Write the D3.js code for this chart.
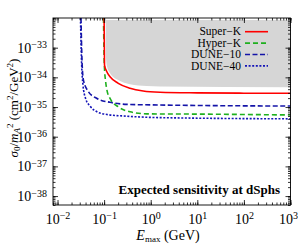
<!DOCTYPE html>
<html>
<head>
<meta charset="utf-8">
<script src="https://cdn.jsdelivr.net/npm/d3@7"></script>
<style>
  html, body { margin: 0; padding: 0; background: #fff; }
  svg { display: block; font-family: "Liberation Serif", "DejaVu Serif", serif; }
</style>
</head>
<body>
<svg id="chart" width="298" height="248"></svg>
<script>
// axis domains and tick labels
const xDomain = [8e-3, 1e3];
const yDomain = [5e-39, 1e-32];
const xMajor = [1e-2, 1e-1, 1e0, 1e1, 1e2, 1e3];
const xExp = ["−2", "−1", "0", "1", "2", "3"];
const yMajor = [1e-38, 1e-37, 1e-36, 1e-35, 1e-34, 1e-33];
const yExp = ["−38", "−37", "−36", "−35", "−34", "−33"];

// shaded region (upper bound + lower boundary)
const grayTop = 8.5e-33;
const grayE = [0.108, 0.11, 0.115, 0.134, 0.201, 0.359, 0.82, 1.58, 1000];
const graySig = [grayTop, 4.5e-34, 2.4e-34, 1.38e-34, 8.1e-35, 5.9e-35, 5.1e-35, 4.9e-35, 4.6e-35];

// sensitivity curves
const superkE = [0.1, 0.102, 0.1125, 0.134, 0.201, 0.359, 0.69, 1.58, 10, 100, 1000];
const superkSig = [1e-32, 2.6e-34, 1.63e-34, 1.05e-34, 6.3e-35, 4.3e-35, 3.47e-35, 3.16e-35, 3.0e-35, 2.93e-35, 2.9e-35];

const hyperkE = [0.097, 0.101, 0.108, 0.115, 0.134, 0.201, 0.359, 0.82, 15.9, 1000];
const hyperkSig = [1e-32, 2.6e-34, 7.1e-35, 3.7e-35, 1.95e-35, 1.02e-35, 6.9e-36, 5.9e-36, 5.75e-36, 5.4e-36];

const dune10E = [0.0319, 0.0335, 0.036, 0.045, 0.0703, 0.134, 0.31, 1.58, 1000];
const dune10Sig = [1e-32, 3.85e-34, 8.1e-35, 3.47e-35, 1.94e-35, 1.44e-35, 1.23e-35, 1.17e-35, 1.08e-35];

const dune40E = [0.0311, 0.0327, 0.0352, 0.0398, 0.0498, 0.0703, 0.115, 0.31, 1.58, 1000];
const dune40Sig = [1e-32, 3.85e-34, 5.5e-35, 2.0e-35, 1.08e-35, 6.9e-36, 5.6e-36, 4.9e-36, 4.4e-36, 4.0e-36];

const legendNames = ["Super−K", "Hyper−K", "DUNE−10", "DUNE−40"];

const series = [
  { name: legendNames[0], E: superkE, s: superkSig, color: "#ff0000", dash: null },
  { name: legendNames[1], E: hyperkE, s: hyperkSig, color: "#1fb01f", dash: "5,3" },
  { name: legendNames[2], E: dune10E, s: dune10Sig, color: "#1414a8", dash: "5,2.5" },
  { name: legendNames[3], E: dune40E, s: dune40Sig, color: "#1414b8", dash: "2,1.6" }
];

const svg = d3.select("#chart");
const margin = { top: 18, right: 7.5, bottom: 43, left: 53 };
const width = 298 - margin.left - margin.right;
const height = 248 - margin.top - margin.bottom;

const x = d3.scaleLog().domain(xDomain).range([0, width]);
const y = d3.scaleLog().domain(yDomain).range([height, 0]);

const chart = svg.append("g").attr("transform", `translate(${margin.left},${margin.top})`);

chart.append("clipPath").attr("id", "clip")
  .append("rect").attr("width", width).attr("height", height);

const plot = chart.append("g").attr("clip-path", "url(#clip)");

// grey region
const grayData = grayE.map((e, i) => ({ e, s: graySig[i] }));
plot.append("path")
  .datum(grayData)
  .attr("fill", "#d6d6d6")
  .attr("d", d3.area()
    .x(d => x(d.e))
    .y0(y(grayTop))
    .y1(d => y(d.s))
    .curve(d3.curveMonotoneX));

// curves
const line = d3.line()
  .x(d => x(d.e))
  .y(d => y(d.s))
  .curve(d3.curveMonotoneX);

series.slice().reverse().forEach(sr => {
  plot.append("path")
    .datum(sr.E.map((e, i) => ({ e, s: sr.s[i] })))
    .attr("fill", "none")
    .attr("stroke", sr.color)
    .attr("stroke-width", 1.6)
    .attr("stroke-dasharray", sr.dash)
    .attr("d", line);
});

// axes: minor ticks on all sides
const allX = x.ticks();
const allY = y.ticks();
const style = g => {
  g.select(".domain").remove();
  g.selectAll("line").attr("stroke", "#000").attr("stroke-width", 0.8);
};
chart.append("g").attr("transform", `translate(0,${height})`)
  .call(d3.axisBottom(x).tickValues(allX).tickSize(-2.5).tickFormat("")).call(style);
chart.append("g")
  .call(d3.axisTop(x).tickValues(allX).tickSize(-2.5).tickFormat("")).call(style);
chart.append("g")
  .call(d3.axisLeft(y).tickValues(allY).tickSize(-2.5).tickFormat("")).call(style);
chart.append("g").attr("transform", `translate(${width},0)`)
  .call(d3.axisRight(y).tickValues(allY).tickSize(-2.5).tickFormat("")).call(style);

// major ticks with labels
const sup = (sel, exps, vals) => {
  sel.selectAll(".tick text").each(function(d) {
    const t = d3.select(this).text("");
    t.append("tspan").text("10");
    t.append("tspan").attr("dy", "-0.45em").attr("font-size", "10px").text(exps[vals.indexOf(d)]);
  });
};

const xb = chart.append("g").attr("transform", `translate(0,${height})`)
  .call(d3.axisBottom(x).tickValues(xMajor).tickSize(-5).tickPadding(9).tickFormat(""))
  .call(style);
xb.attr("font-size", 14).attr("font-family", "Liberation Serif");
xb.selectAll(".tick text").attr("fill", "#000");
sup(xb, xExp, xMajor);
// last label kept inside the picture
xb.selectAll(".tick text").filter(d => d === xMajor[xMajor.length - 1])
  .attr("text-anchor", "end").attr("x", 7);

const yl = chart.append("g")
  .call(d3.axisLeft(y).tickValues(yMajor).tickSize(-5).tickPadding(6).tickFormat(""))
  .call(style);
yl.attr("font-size", 14).attr("font-family", "Liberation Serif");
yl.selectAll(".tick text").attr("fill", "#000");
sup(yl, yExp, yMajor);

chart.append("g")
  .call(d3.axisTop(x).tickValues(xMajor).tickSize(-5).tickFormat("")).call(style);
chart.append("g").attr("transform", `translate(${width},0)`)
  .call(d3.axisRight(y).tickValues(yMajor).tickSize(-5).tickFormat("")).call(style);

// frame
chart.append("rect")
  .attr("width", width).attr("height", height)
  .attr("fill", "none").attr("stroke", "#000").attr("stroke-width", 0.9);

// legend
const legend = svg.append("g").attr("transform", "translate(241,0)");
series.forEach((sr, i) => {
  const ly = 31.7 + i * 11.4;
  legend.append("text")
    .attr("x", 0).attr("y", ly).attr("dy", "0.33em")
    .attr("text-anchor", "end")
    .attr("font-size", "11.5px")
    .text(sr.name);
  legend.append("line")
    .attr("x1", 4).attr("x2", 27).attr("y1", ly).attr("y2", ly)
    .attr("stroke", sr.color).attr("stroke-width", 1.6)
    .attr("stroke-dasharray", sr.dash);
});

// annotation
svg.append("text")
  .attr("x", 280).attr("y", 194)
  .attr("text-anchor", "end")
  .attr("font-weight", "bold")
  .attr("font-size", "13px")
  .text("Expected sensitivity at dSphs");

// axis titles
const xt = svg.append("text")
  .attr("x", 168).attr("y", 240)
  .attr("text-anchor", "middle")
  .attr("font-size", "14px");
xt.append("tspan").attr("font-style", "italic").text("E");
xt.append("tspan").attr("font-size", "9px").attr("dy", "2").text("max");
xt.append("tspan").attr("dy", "-2").text(" (GeV)");

const yt = svg.append("text")
  .attr("transform", "translate(18,108) rotate(-90)")
  .attr("text-anchor", "middle")
  .attr("font-size", "13px");
yt.append("tspan").attr("font-style", "italic").text("σ");
yt.append("tspan").attr("font-size", "9px").attr("dy", "2").text("0");
yt.append("tspan").attr("dy", "-2").text("/");
yt.append("tspan").attr("font-style", "italic").text("m");
yt.append("tspan").attr("font-size", "9px").attr("font-style", "italic").attr("dy", "2").text("A");
yt.append("tspan").attr("font-size", "9px").attr("dy", "-7").text("2");
yt.append("tspan").attr("dy", "5").text(" (cm");
yt.append("tspan").attr("font-size", "9px").attr("dy", "-5").text("2");
yt.append("tspan").attr("dy", "5").text("/GeV");
yt.append("tspan").attr("font-size", "9px").attr("dy", "-5").text("2");
yt.append("tspan").attr("dy", "5").text(")");
</script>
</body>
</html>
